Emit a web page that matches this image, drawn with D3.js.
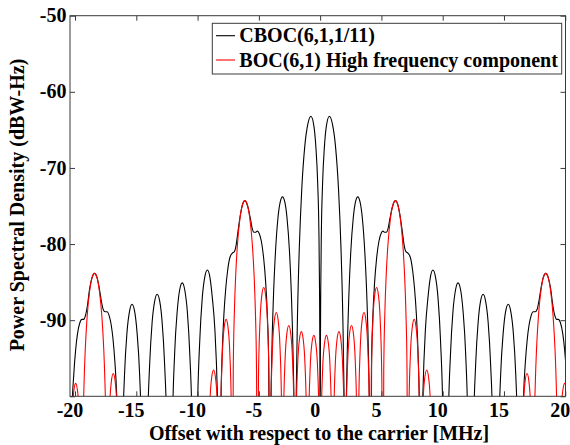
<!DOCTYPE html>
<html>
<head>
<meta charset="utf-8">
<script src="https://cdn.jsdelivr.net/npm/d3@7"></script>
<style>
html,body{margin:0;padding:0;background:#fff;}
svg{display:block;}
text{font-family:"Liberation Serif","Times New Roman",serif;font-weight:bold;fill:#000;}
</style>
</head>
<body>
<svg id="chart" width="570" height="445"></svg>
<script>
// ---- data (frequency offset MHz, PSD dBW-Hz) ----
const seriesNames = ["CBOC(6,1,1/11)", "BOC(6,1) High frequency component"];
const seriesColors = ["#000000", "#ff0000"];
const xLimits = [-20.41, 20.02];
const yLimits = [-100, -50];
const xTicks = [-20, -15, -10, -5, 0, 5, 10, 15, 20];
const yTicks = [-100, -90, -80, -70, -60, -50];
const yTickLabels = ["", "-90", "-80", "-70", "-60", "-50"];
const xLabel = "Offset with respect to the carrier [MHz]";
const yLabel = "Power Spectral Density (dBW-Hz)";

const cbocPSD = [
[-20.46,-140],[-20.25,-102],[-20.1,-97.1],[-19.95,-93.9],[-19.8,-91.8],[-19.6,-90.3],[-19.44,-89.9],[-19.3,-89.9],[-19.15,-89.4],[-19.0,-88.2],[-18.8,-85.8],[-18.6,-84.35],[-18.41,-83.85],[-18.2,-84.4],[-18.0,-86],[-17.85,-87.5],[-17.7,-88.6],[-17.55,-88.9],[-17.39,-88.9],[-17.2,-89.5],[-17.05,-90.6],[-16.9,-92.5],[-16.75,-95.4],[-16.6,-99.8],[-16.45,-109],[-16.368,-140],
[-16.16,-108.3],[-15.96,-97.1],[-15.76,-91.6],[-15.55,-88.8],[-15.35,-87.9],[-15.14,-88.8],[-14.94,-91.6],[-14.73,-97.1],[-14.53,-108.3],[-14.322,-140],
[-14.12,-107],[-13.91,-95.8],[-13.71,-90.3],[-13.5,-87.5],[-13.3,-86.6],[-13.09,-87.5],[-12.89,-90.3],[-12.69,-95.8],[-12.48,-107],[-12.276,-140],
[-12.07,-105.5],[-11.87,-94.3],[-11.66,-88.8],[-11.46,-86],[-11.25,-85.1],[-11.05,-86],[-10.84,-88.8],[-10.64,-94.3],[-10.43,-105.5],[-10.23,-140],
[-10.03,-103.8],[-9.82,-92.6],[-9.62,-87.1],[-9.41,-84.3],[-9.2,-83.4],[-9.0,-84.3],[-8.8,-87],[-8.59,-91.2],[-8.39,-99.3],[-8.3,-106],[-8.184,-140],
[-8.1,-101.6],[-8.0,-94.7],[-7.85,-89.2],[-7.7,-85.8],[-7.55,-83.5],[-7.35,-81.7],[-7.16,-81.2],[-7.0,-81],[-6.85,-80.1],[-6.7,-78.3],[-6.55,-76.6],[-6.35,-74.9],[-6.14,-74.3],[-5.9,-75.1],[-5.7,-76.6],[-5.55,-77.9],[-5.4,-78.45],[-5.25,-78.45],[-5.12,-78.3],[-5.0,-78.5],[-4.8,-79.6],[-4.6,-82],[-4.45,-84.9],[-4.3,-89.6],[-4.2,-95.2],[-4.092,-140],
[-4.04,-104.9],[-3.95,-95],[-3.8,-86.5],[-3.65,-81.2],[-3.45,-76.7],[-3.26,-74.5],[-3.07,-73.8],[-2.88,-74.5],[-2.7,-76.6],[-2.5,-81],[-2.35,-86.5],[-2.2,-95.2],[-2.1,-106],[-2.046,-140],
[-2.0,-108],[-1.95,-99.6],[-1.85,-89.6],[-1.7,-80.5],[-1.5,-72.8],[-1.25,-67.1],[-1.0,-64.2],[-0.75,-63.2],[-0.5,-64.6],[-0.35,-67.2],[-0.2,-72],[-0.1,-78.5],[-0.05,-86],[-0.02,-95],
[0,-140],[0.02,-95],[0.05,-86],[0.1,-78.5],[0.2,-72],[0.35,-67.2],[0.5,-64.6],[0.75,-63.2],[1.0,-64.2],[1.25,-67.1],[1.5,-72.8],[1.7,-80.5],[1.85,-89.6],[1.95,-99.6],[2.0,-108],[2.046,-140],
[2.1,-106],[2.2,-95.2],[2.35,-86.5],[2.5,-81],[2.7,-76.6],[2.88,-74.5],[3.07,-73.8],[3.26,-74.5],[3.45,-76.7],[3.65,-81.2],[3.8,-86.5],[3.95,-95],[4.04,-104.9],[4.092,-140],
[4.2,-95.2],[4.3,-89.6],[4.45,-84.9],[4.6,-82],[4.8,-79.6],[5.0,-78.5],[5.12,-78.3],[5.25,-78.45],[5.4,-78.45],[5.55,-77.9],[5.7,-76.6],[5.9,-75.1],[6.14,-74.3],[6.35,-74.9],[6.55,-76.6],[6.7,-78.3],[6.85,-80.1],[7.0,-81],[7.16,-81.2],[7.35,-81.7],[7.55,-83.5],[7.7,-85.8],[7.85,-89.2],[8.0,-94.7],[8.1,-101.6],[8.184,-140],
[8.3,-106],[8.39,-99.3],[8.59,-91.2],[8.8,-87],[9.0,-84.3],[9.2,-83.4],[9.41,-84.3],[9.62,-87.1],[9.82,-92.6],[10.03,-103.8],[10.23,-140],
[10.43,-105.5],[10.64,-94.3],[10.84,-88.8],[11.05,-86],[11.25,-85.1],[11.46,-86],[11.66,-88.8],[11.87,-94.3],[12.07,-105.5],[12.276,-140],
[12.48,-107],[12.69,-95.8],[12.89,-90.3],[13.09,-87.5],[13.3,-86.6],[13.5,-87.5],[13.71,-90.3],[13.91,-95.8],[14.12,-107],[14.322,-140],
[14.53,-108.3],[14.73,-97.1],[14.94,-91.6],[15.14,-88.8],[15.35,-87.9],[15.55,-88.8],[15.76,-91.6],[15.96,-97.1],[16.16,-108.3],[16.368,-140],
[16.45,-109],[16.6,-99.8],[16.75,-95.4],[16.9,-92.5],[17.05,-90.6],[17.2,-89.5],[17.39,-88.9],[17.55,-88.9],[17.7,-88.6],[17.85,-87.5],[18.0,-86],[18.2,-84.4],[18.41,-83.85],[18.6,-84.35],[18.8,-85.8],[19.0,-88.2],[19.15,-89.4],[19.3,-89.9],[19.44,-89.9],[19.6,-90.3],[19.8,-91.8],[19.95,-93.9],[20.1,-97.1],[20.25,-102],[20.46,-140]
];

const boc61PSD = [
[-20.46,-140],[-20.38,-110.4],[-20.256,-102.9],[-20.1,-99.3],[-19.95,-98.3],[-19.795,-99.3],[-19.641,-102.9],[-19.52,-110.4],[-19.437,-140],
[-19.36,-106.2],[-19.26,-98.1],[-19.16,-93.7],[-19.01,-89.5],[-18.81,-86.2],[-18.61,-84.4],[-18.41,-83.85],[-18.21,-84.4],[-18.01,-86.2],[-17.81,-89.5],[-17.66,-93.7],[-17.56,-98.1],[-17.46,-106.2],[-17.391,-140],
[-17.309,-109.1],[-17.186,-101.6],[-17.033,-98],[-16.88,-97],[-16.726,-98],[-16.573,-101.6],[-16.45,-109.1],[-16.368,-140],
[-9.207,-140],[-9.125,-108.6],[-9.002,-101.1],[-8.849,-97.5],[-8.696,-96.55],[-8.542,-97.5],[-8.389,-101.1],[-8.266,-108.6],[-8.184,-140],
[-8.102,-102],[-7.979,-94.5],[-7.826,-90.9],[-7.673,-89.9],[-7.519,-90.9],[-7.366,-94.5],[-7.243,-102],[-7.161,-140],
[-7.09,-96.6],[-6.99,-88.5],[-6.89,-84.1],[-6.74,-79.9],[-6.54,-76.6],[-6.34,-74.85],[-6.14,-74.3],[-5.94,-74.85],[-5.74,-76.6],[-5.54,-79.9],[-5.39,-84.1],[-5.29,-88.5],[-5.19,-96.6],[-5.115,-140],
[-5.033,-97.8],[-4.91,-90.3],[-4.757,-86.7],[-4.604,-85.7],[-4.45,-86.7],[-4.297,-90.3],[-4.174,-97.8],[-4.092,-140],
[-4.01,-101.1],[-3.887,-93.6],[-3.734,-90],[-3.58,-89],[-3.427,-90],[-3.274,-93.6],[-3.151,-101.1],[-3.069,-140],
[-2.987,-102.8],[-2.864,-95.3],[-2.711,-91.7],[-2.558,-90.7],[-2.404,-91.7],[-2.251,-95.3],[-2.128,-102.8],[-2.046,-140],
[-1.964,-103.6],[-1.841,-96.1],[-1.688,-92.5],[-1.535,-91.5],[-1.381,-92.5],[-1.228,-96.1],[-1.105,-103.6],[-1.023,-140],
[-0.94,-104.1],[-0.82,-96.6],[-0.67,-93],[-0.51,-92],[-0.36,-93],[-0.2,-96.6],[-0.08,-104.1],
[0,-140],[0.08,-104.1],[0.2,-96.6],[0.36,-93],[0.51,-92],[0.67,-93],[0.82,-96.6],[0.94,-104.1],[1.023,-140],
[1.105,-103.6],[1.228,-96.1],[1.381,-92.5],[1.535,-91.5],[1.688,-92.5],[1.841,-96.1],[1.964,-103.6],[2.046,-140],
[2.128,-102.8],[2.251,-95.3],[2.404,-91.7],[2.558,-90.7],[2.711,-91.7],[2.864,-95.3],[2.987,-102.8],[3.069,-140],
[3.151,-101.1],[3.274,-93.6],[3.427,-90],[3.58,-89],[3.734,-90],[3.887,-93.6],[4.01,-101.1],[4.092,-140],
[4.174,-97.8],[4.297,-90.3],[4.45,-86.7],[4.604,-85.7],[4.757,-86.7],[4.91,-90.3],[5.033,-97.8],[5.115,-140],
[5.19,-96.6],[5.29,-88.5],[5.39,-84.1],[5.54,-79.9],[5.74,-76.6],[5.94,-74.85],[6.14,-74.3],[6.34,-74.85],[6.54,-76.6],[6.74,-79.9],[6.89,-84.1],[6.99,-88.5],[7.09,-96.6],[7.161,-140],
[7.243,-102],[7.366,-94.5],[7.519,-90.9],[7.673,-89.9],[7.826,-90.9],[7.979,-94.5],[8.102,-102],[8.184,-140],
[8.266,-108.6],[8.389,-101.1],[8.542,-97.5],[8.696,-96.55],[8.849,-97.5],[9.002,-101.1],[9.125,-108.6],[9.207,-140],
[16.368,-140],[16.45,-109.1],[16.573,-101.6],[16.726,-98],[16.88,-97],[17.033,-98],[17.186,-101.6],[17.309,-109.1],[17.391,-140],
[17.46,-106.2],[17.56,-98.1],[17.66,-93.7],[17.81,-89.5],[18.01,-86.2],[18.21,-84.4],[18.41,-83.85],[18.61,-84.4],[18.81,-86.2],[19.01,-89.5],[19.16,-93.7],[19.26,-98.1],[19.36,-106.2],[19.437,-140],
[19.52,-110.4],[19.641,-102.9],[19.795,-99.3],[19.95,-98.3],[20.1,-99.3],[20.256,-102.9],[20.38,-110.4],[20.46,-140]
];

// ---- layout ----
const W = 570, H = 445;
const plot = {left: 70, right: 565.5, top: 15.7, bottom: 396.3};
const axisColor = "#3a3a3a";
const fontSize = 20;

const svg = d3.select("#chart");
svg.append("rect").attr("width", W).attr("height", H).attr("fill", "#fff");

const x = d3.scaleLinear().domain(xLimits).range([plot.left, plot.right]);
const y = d3.scaleLinear().domain(yLimits).range([plot.bottom, plot.top]);

svg.append("defs").append("clipPath").attr("id", "plotclip")
  .append("rect")
  .attr("x", plot.left).attr("y", plot.top)
  .attr("width", plot.right - plot.left).attr("height", plot.bottom - plot.top);

const line = d3.line().x(d => x(d[0])).y(d => y(d[1])).curve(d3.curveMonotoneX);

const gLines = svg.append("g").attr("clip-path", "url(#plotclip)");
[cbocPSD, boc61PSD].forEach((s, i) => {
  gLines.append("path").datum(s)
    .attr("d", line)
    .attr("fill", "none")
    .attr("stroke", seriesColors[i])
    .attr("stroke-width", 1.1)
    .attr("stroke-linejoin", "round");
});

// ---- axes (box with inward ticks) ----
const tickLen = 5;
const gAx = svg.append("g");
const bottomAxis = d3.axisBottom(x).tickValues(xTicks).tickSizeInner(-tickLen).tickSizeOuter(0).tickFormat("");
const topAxis = d3.axisTop(x).tickValues(xTicks).tickSizeInner(-tickLen).tickSizeOuter(0).tickFormat("");
const leftAxis = d3.axisLeft(y).tickValues(yTicks).tickSizeInner(-tickLen).tickSizeOuter(0).tickFormat("");
const rightAxis = d3.axisRight(y).tickValues(yTicks).tickSizeInner(-tickLen).tickSizeOuter(0).tickFormat("");

gAx.append("g").attr("transform", `translate(0,${plot.bottom})`).call(bottomAxis);
gAx.append("g").attr("transform", `translate(0,${plot.top})`).call(topAxis);
gAx.append("g").attr("transform", `translate(${plot.left},0)`).call(leftAxis);
gAx.append("g").attr("transform", `translate(${plot.right},0)`).call(rightAxis);
gAx.selectAll(".domain").remove();
gAx.selectAll("line").attr("stroke", axisColor).attr("stroke-width", 1);

svg.append("rect")
  .attr("x", plot.left).attr("y", plot.top)
  .attr("width", plot.right - plot.left).attr("height", plot.bottom - plot.top)
  .attr("fill", "none").attr("stroke", axisColor).attr("stroke-width", 1);

// tick labels
svg.append("g").selectAll("text").data(xTicks).join("text")
  .attr("x", d => x(d) - 5)
  .attr("y", 417)
  .attr("text-anchor", "middle")
  .attr("font-size", fontSize)
  .text(d => String(d));

svg.append("g").selectAll("text").data(yTicks).join("text")
  .attr("x", plot.left - 3.5)
  .attr("y", d => y(d))
  .attr("dy", "0.33em")
  .attr("text-anchor", "end")
  .attr("font-size", fontSize)
  .text((d, i) => yTickLabels[i]);

// axis titles
svg.append("text")
  .attr("x", 319).attr("y", 440)
  .attr("text-anchor", "middle")
  .attr("font-size", fontSize)
  .text(xLabel);

svg.append("text")
  .attr("transform", "translate(17,205) rotate(-90)")
  .attr("text-anchor", "middle")
  .attr("dy", "0.33em")
  .attr("font-size", fontSize)
  .text(yLabel);

// legend
const leg = {x: 212.3, y: 23.3, w: 349.4, h: 50.7};
svg.append("rect")
  .attr("x", leg.x).attr("y", leg.y).attr("width", leg.w).attr("height", leg.h)
  .attr("fill", "#fff").attr("stroke", axisColor).attr("stroke-width", 1);
const legRowsY = [35.7, 60];
seriesNames.forEach((name, i) => {
  svg.append("line")
    .attr("x1", 216).attr("x2", 235)
    .attr("y1", legRowsY[i]).attr("y2", legRowsY[i])
    .attr("stroke", seriesColors[i]).attr("stroke-width", 1.1);
  svg.append("text")
    .attr("x", 239.3).attr("y", legRowsY[i])
    .attr("dy", "0.33em")
    .attr("font-size", fontSize)
    .text(name);
});
</script>
</body>
</html>
